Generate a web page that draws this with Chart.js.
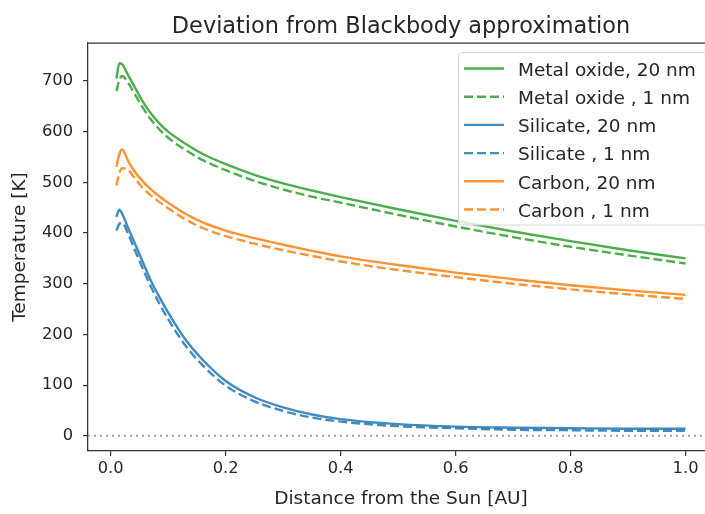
<!DOCTYPE html>
<html>
<head>
<meta charset="utf-8">
<title>Deviation from Blackbody approximation</title>
<script src="https://cdn.jsdelivr.net/npm/chart.js@4.4.1/dist/chart.umd.min.js"></script>
<style>
  html, body { margin: 0; padding: 0; background: #fff; overflow: hidden; }
  #wrap { width: 730px; height: 514px; }
</style>
</head>
<body>
<div id="wrap"><canvas id="chart" width="730" height="514"></canvas></div>
<script>
'use strict';

// distance from the sun [AU], shared by every curve
const distanceAU = [0.01, 0.015, 0.02, 0.03, 0.04, 0.055, 0.07, 0.085, 0.1, 0.13, 0.16, 0.2, 0.25, 0.3, 0.35, 0.4, 0.5, 0.6, 0.7, 0.8, 0.9, 1.0];

// temperatures [K]
const metalOxide20 = [705, 735, 733, 712, 692, 661, 636, 616, 600, 576, 556, 536, 515, 498, 484, 471, 447, 424, 403, 384, 366, 350];
const metalOxide1 = [680, 702, 710, 697, 678, 649, 624, 604, 588, 564, 544, 524, 503, 486, 472, 460, 436, 413, 392, 373, 356, 340];
const silicate20 = [432, 446, 438, 411, 385, 345, 306, 273, 243, 190, 150, 108, 76, 56, 42, 33, 23, 18, 16, 15, 14, 14];
const silicate1 = [405, 418, 420, 399, 372, 332, 294, 260, 230, 178, 139, 99, 68, 49, 36, 28, 19, 15, 12, 11, 10, 10];
const carbon20 = [531, 556, 565, 543, 524, 503, 486, 472, 460, 438, 421, 405, 390, 377, 365, 354, 337, 322, 309, 297, 287, 278];
const carbon1 = [494, 518, 528, 525, 511, 490, 474, 461, 449, 427, 410, 394, 379, 366, 355, 344, 327, 313, 300, 289, 279, 270];

// tick labels
const xTickValues = [0.0, 0.2, 0.4, 0.6, 0.8, 1.0];
const yTickValues = [0, 100, 200, 300, 400, 500, 600, 700];

// axis limits (matplotlib style margins)
const X_MIN = -0.0395;
const X_MAX = 1.0495;
const Y_MIN = -30;
const Y_MAX = 775;

const GREEN = 'rgba(44,160,44,0.85)';
const BLUE = 'rgba(31,119,180,0.85)';
const ORANGE = 'rgba(255,127,14,0.85)';
const DASH = [9, 4];
const FONT = '"DejaVu Sans", sans-serif';
const TEXT = '#262626';
const SPINE = '#333';

function toPoints(values) {
  return distanceAU.map((x, i) => ({ x: x, y: values[i] }));
}

function curve(label, values, color, dashed) {
  return {
    label: label,
    data: toPoints(values),
    borderColor: color,
    borderWidth: 2.4,
    borderDash: dashed ? DASH : [],
    pointRadius: 0,
    cubicInterpolationMode: 'monotone',
    fill: false,
    inLegend: true
  };
}

let datasets = [
  curve('Metal oxide, 20 nm', metalOxide20, GREEN, false),
  curve('Metal oxide , 1 nm', metalOxide1, GREEN, true),
  curve('Silicate, 20 nm', silicate20, BLUE, false),
  curve('Silicate , 1 nm', silicate1, BLUE, true),
  curve('Carbon, 20 nm', carbon20, ORANGE, false),
  curve('Carbon , 1 nm', carbon1, ORANGE, true),
  {
    label: 'zero',
    data: [{ x: X_MIN, y: 0 }, { x: X_MAX, y: 0 }],
    borderColor: '#a0a0a0',
    borderWidth: 2,
    borderDash: [2, 4],
    pointRadius: 0,
    fill: false,
    inLegend: false
  }
];

// draws the top/right spines, the legend box and the titles
const decorPlugin = {
  id: 'decor',
  afterDatasetsDraw(chart) {
    const ctx = chart.ctx;
    const a = chart.chartArea;
    ctx.save();
    ctx.strokeStyle = SPINE;
    ctx.lineWidth = 1.25;
    ctx.beginPath();
    ctx.moveTo(a.left, a.top);
    ctx.lineTo(a.right, a.top);
    ctx.lineTo(a.right, a.bottom);
    ctx.stroke();
    ctx.restore();
  },
  afterDraw(chart) {
    const ctx = chart.ctx;
    const a = chart.chartArea;
    ctx.save();

    // legend
    let boxX = 458.5, boxY = 52.5, boxW = 248, boxH = 172.5, r = 4;
    ctx.beginPath();
    ctx.moveTo(boxX + r, boxY);
    ctx.arcTo(boxX + boxW, boxY, boxX + boxW, boxY + boxH, r);
    ctx.arcTo(boxX + boxW, boxY + boxH, boxX, boxY + boxH, r);
    ctx.arcTo(boxX, boxY + boxH, boxX, boxY, r);
    ctx.arcTo(boxX, boxY, boxX + boxW, boxY, r);
    ctx.closePath();
    ctx.fillStyle = 'rgba(255,255,255,0.8)';
    ctx.fill();
    ctx.strokeStyle = '#d6d6d6';
    ctx.lineWidth = 1;
    ctx.stroke();

    let items = chart.data.datasets.filter(ds => ds.inLegend);
    ctx.font = '18.5px ' + FONT;
    ctx.textAlign = 'left';
    ctx.textBaseline = 'alphabetic';
    items.forEach((ds, i) => {
      let y = 68.5 + i * 28.2;
      ctx.strokeStyle = ds.borderColor;
      ctx.lineWidth = ds.borderWidth;
      ctx.setLineDash(ds.borderDash);
      ctx.beginPath();
      ctx.moveTo(464, y);
      ctx.lineTo(504, y);
      ctx.stroke();
      ctx.setLineDash([]);
      ctx.fillStyle = TEXT;
      ctx.fillText(ds.label, 518, y + 7.3);
    });

    // title and axis labels
    let cx = (a.left + a.right) / 2;
    ctx.fillStyle = TEXT;
    ctx.textAlign = 'center';
    ctx.font = '22.4px ' + FONT;
    ctx.fillText('Deviation from Blackbody approximation', cx, 33);
    ctx.font = '18.5px ' + FONT;
    ctx.fillText('Distance from the Sun [AU]', cx, 504);
    ctx.translate(25, (a.top + a.bottom) / 2);
    ctx.rotate(-Math.PI / 2);
    ctx.fillText('Temperature [K]', 0, 0);
    ctx.restore();
  }
};

const ctx = document.getElementById('chart').getContext('2d');

const chart = new Chart(ctx, {
  type: 'line',
  data: { datasets: datasets },
  plugins: [decorPlugin],
  options: {
    responsive: false,
    animation: false,
    layout: { padding: { left: 0, top: 43, right: 16, bottom: 0 } },
    plugins: {
      legend: { display: false },
      title: { display: false },
      tooltip: { enabled: false }
    },
    scales: {
      x: {
        type: 'linear',
        min: X_MIN,
        max: X_MAX,
        afterBuildTicks: scale => { scale.ticks = xTickValues.map(v => ({ value: v })); },
        afterFit: scale => { scale.height = 63; },
        ticks: {
          callback: v => v.toFixed(1),
          font: { family: FONT, size: 16.3 },
          color: TEXT,
          padding: 3,
          maxRotation: 0,
          autoSkip: false
        },
        grid: { drawOnChartArea: false, drawTicks: true, tickLength: 5, color: SPINE, lineWidth: 1.2 },
        border: { display: true, color: SPINE, width: 1.25 }
      },
      y: {
        type: 'linear',
        min: Y_MIN,
        max: Y_MAX,
        afterBuildTicks: scale => { scale.ticks = yTickValues.map(v => ({ value: v })); },
        afterFit: scale => { scale.width = 88; },
        ticks: {
          callback: v => String(v),
          font: { family: FONT, size: 16.3 },
          color: TEXT,
          padding: 10,
          autoSkip: false
        },
        grid: { drawOnChartArea: false, drawTicks: true, tickLength: 5, color: SPINE, lineWidth: 1.2 },
        border: { display: true, color: SPINE, width: 1.25 }
      }
    }
  }
});
</script>
</body>
</html>
